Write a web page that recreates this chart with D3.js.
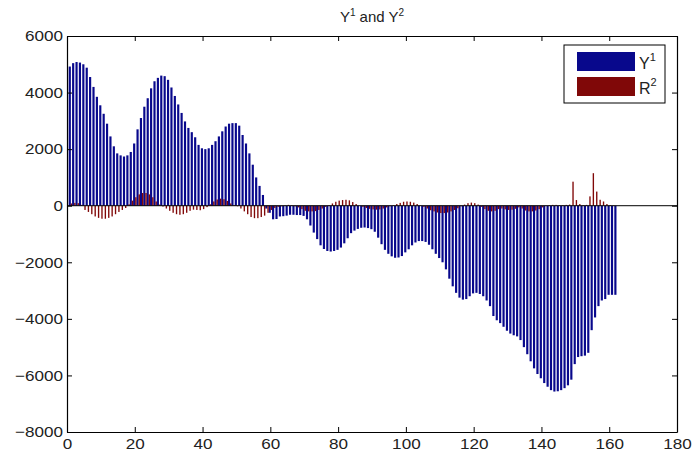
<!DOCTYPE html>
<html><head><meta charset="utf-8">
<script src="https://cdn.jsdelivr.net/npm/d3@7"></script>
<style>body{margin:0;background:#fff}svg{display:block}text{font-family:"Liberation Sans",Arial,sans-serif;fill:#222}</style>
</head><body><svg id="c" width="695" height="454"></svg>
<script>
const xTicks=[0,20,40,60,80,100,120,140,160,180];
const yTicks=[-8000,-6000,-4000,-2000,0,2000,4000,6000];
const seriesNames=["Y","R"];
const seriesSup=["1","2"];
const y1=[4920,5040,5080,5060,5000,4880,4550,4200,3850,3550,3250,2900,2450,2100,1850,1780,1740,1780,1900,2200,
2700,3100,3500,3800,4150,4400,4520,4600,4580,4450,4180,3880,3580,3280,2980,2750,2600,2420,2150,2030,
2000,2030,2150,2280,2450,2630,2800,2900,2920,2920,2830,2500,2200,1850,1450,1000,700,380,-100,-250,
-480,-470,-380,-370,-350,-320,-320,-330,-330,-360,-480,-700,-950,-1180,-1400,-1530,-1600,-1620,-1600,-1560,
-1480,-1330,-1150,-970,-880,-820,-780,-770,-790,-830,-920,-1130,-1360,-1560,-1700,-1790,-1840,-1830,-1780,-1650,
-1540,-1400,-1300,-1250,-1250,-1280,-1380,-1540,-1700,-1850,-2000,-2250,-2580,-2850,-3080,-3250,-3320,-3300,-3200,-3100,
-3080,-3120,-3200,-3350,-3550,-3900,-4050,-4150,-4280,-4420,-4520,-4580,-4620,-4750,-5000,-5250,-5500,-5750,-5950,-6100,
-6270,-6400,-6520,-6570,-6560,-6520,-6450,-6350,-6150,-5600,-5350,-5320,-5300,-5200,-4400,-3950,-3550,-3350,-3300,-3150,
-3150,-3150];
const r2=[80,100,90,30,-150,-220,-300,-380,-430,-460,-460,-430,-380,-300,-220,-150,-80,50,180,300,
400,450,450,400,300,150,40,-30,-100,-180,-250,-300,-320,-300,-250,-180,-140,-150,-160,-120,
-50,50,150,220,250,230,170,80,20,-20,-100,-200,-300,-400,-440,-440,-400,-350,-250,-150,
-80,-40,-20,10,30,20,-20,-60,-120,-180,-200,-200,-190,-150,-100,-40,20,80,140,180,
200,210,190,130,60,0,-40,-80,-110,-130,-140,-130,-100,-60,-20,20,60,100,140,150,
140,110,60,10,-40,-100,-160,-200,-240,-260,-260,-240,-200,-150,-90,-20,40,90,110,90,
40,-40,-120,-180,-200,-180,-120,-100,-130,-150,-140,-110,-60,-100,-170,-200,-200,-170,-120,-60,
-10,20,30,30,20,20,30,40,850,200,60,20,30,330,1150,500,210,150,60,20,
10,0];

const svg=d3.select("#c");
const L=67,R=677,T=36,B=432;
const x=d3.scaleLinear().domain([0,180]).range([L,R]);
const y=d3.scaleLinear().domain([-8000,6000]).range([B,T]);
const blue="#08088c", red="#800808";

const g=svg.append("g");
g.selectAll("rect.y1").data(y1).enter().append("rect").attr("class","y1")
 .attr("x",(d,i)=>x(i+1-0.5)).attr("width",x(0.64)-x(0))
 .attr("y",d=>y(Math.max(0,d))).attr("height",d=>Math.abs(y(d)-y(0)))
 .attr("fill",blue);
g.selectAll("rect.r2").data(r2).enter().append("rect").attr("class","r2")
 .attr("x",(d,i)=>x(i+1+0.12)).attr("width",x(0.4)-x(0))
 .attr("y",d=>y(Math.max(0,d))).attr("height",d=>Math.abs(y(d)-y(0)))
 .attr("fill",red);
g.append("line").attr("x1",L).attr("x2",R).attr("y1",y(0)).attr("y2",y(0)).attr("stroke","#000").attr("stroke-width",1);

const ax=svg.append("g");
const fmt=d3.format("d");
const axB=ax.append("g").attr("transform",`translate(0,${B})`).call(d3.axisBottom(x).tickValues(xTicks).tickFormat(fmt).tickSizeInner(-5).tickSizeOuter(0).tickPadding(6));
ax.append("g").attr("transform",`translate(0,${T})`).call(d3.axisTop(x).tickValues(xTicks).tickSizeInner(-5).tickSizeOuter(0).tickFormat(""));
ax.append("g").attr("transform",`translate(${L},0)`).call(d3.axisLeft(y).tickValues(yTicks).tickFormat(fmt).tickSizeInner(-5).tickSizeOuter(0).tickPadding(4));
ax.append("g").attr("transform",`translate(${R},0)`).call(d3.axisRight(y).tickValues(yTicks).tickSizeInner(-5).tickSizeOuter(0).tickFormat(""));
ax.selectAll(".domain").attr("stroke","#000").attr("stroke-width",1.2);
ax.selectAll(".tick line").attr("stroke","#000");
ax.selectAll(".tick text").attr("font-size",15).attr("fill","#222").style("font-family","'Liberation Sans',Arial,sans-serif");
axB.selectAll(".tick text").attr("dy","0.75em");
ax.selectAll(".tick text").each(function(){const w=this.getComputedTextLength();if(w>0){this.setAttribute("textLength",w*1.14);this.setAttribute("lengthAdjust","spacingAndGlyphs");}});

const t=svg.append("text").attr("x",372).attr("y",22).attr("text-anchor","middle").attr("font-size",15);
t.append("tspan").text("Y");
t.append("tspan").text("1").attr("font-size",10).attr("dy",-6);
t.append("tspan").text(" and Y").attr("dy",6);
t.append("tspan").text("2").attr("font-size",10).attr("dy",-6);

const lg=svg.append("g");
lg.append("rect").attr("x",564).attr("y",45).attr("width",101).attr("height",58).attr("fill","#fff").attr("stroke","#000").attr("stroke-width",1);
[[blue,0,52],[red,1,77]].forEach(([c,k,yy])=>{
 lg.append("rect").attr("x",577).attr("y",yy).attr("width",58).attr("height",19).attr("fill",c);
 const tx=lg.append("text").attr("x",639).attr("y",yy+17).attr("font-size",16);
 tx.append("tspan").text(seriesNames[k]);
 tx.append("tspan").text(seriesSup[k]).attr("font-size",11).attr("dy",-8);
});
</script></body></html>
